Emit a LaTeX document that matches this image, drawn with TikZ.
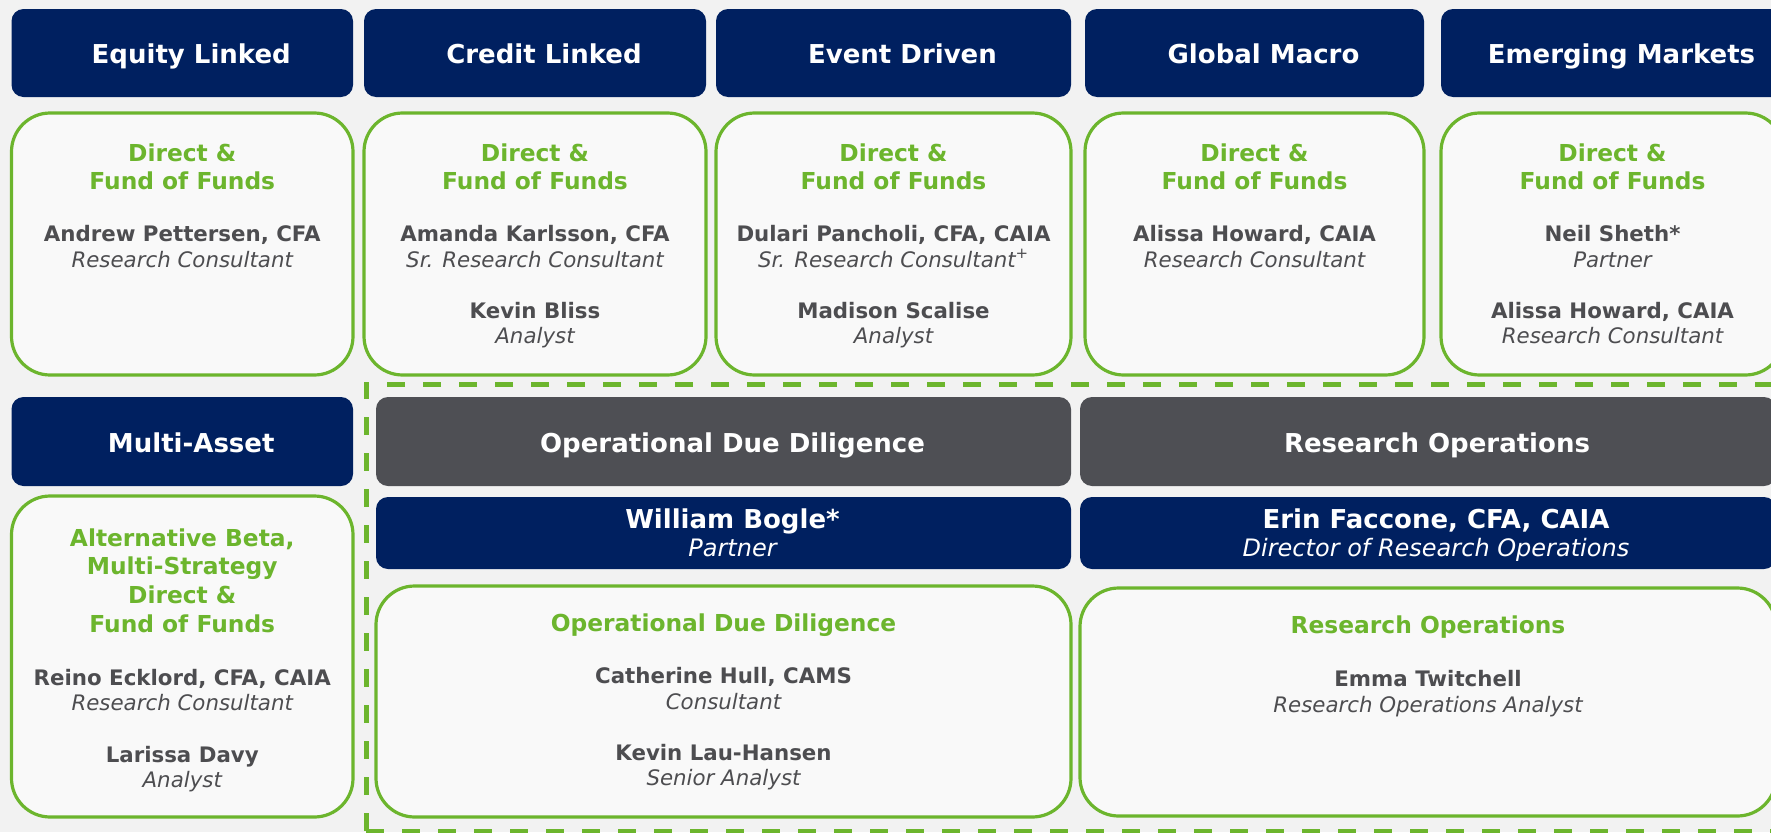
\documentclass[tikz,border=0pt]{standalone}
\usepackage{fontspec}
\setmainfont{DejaVu Sans}
\usetikzlibrary{fit,calc}

\definecolor{navy}{RGB}{0,32,96}
\definecolor{slate}{RGB}{78,79,84}
\definecolor{leaf}{RGB}{108,181,45}
\definecolor{ink}{RGB}{77,77,80}
\definecolor{bgcol}{RGB}{242,242,242}

\begin{document}
\begin{tikzpicture}[x=0.75pt, y=-0.75pt,
    hdr/.style={fill=navy, rounded corners=9pt, inner sep=0pt, outer sep=0pt},
    opsbox/.style={fill=slate, rounded corners=9pt, inner sep=0pt, outer sep=0pt},
    grnbox/.style={draw=leaf, line width=2.4pt, fill=white, fill opacity=0.6, rounded corners=29pt, inner sep=0pt, outer sep=0pt},
    teamline/.style={draw=leaf, line width=3.75pt, dash pattern=on 13.5pt off 13.5pt, inner sep=0pt},
    hdrtxt/.style={text=white, font=\bfseries\fontsize{19.5}{23}\selectfont, anchor=base},
    grntxt/.style={text=leaf, font=\bfseries\fontsize{17.5}{21}\selectfont, anchor=base},
    nametxt/.style={text=ink, font=\bfseries\fontsize{16}{19}\selectfont, anchor=base},
    roletxt/.style={text=ink, font=\itshape\fontsize{16}{19}\selectfont, anchor=base},
    partxt/.style={text=white, font=\itshape\fontsize{18}{21}\selectfont, anchor=base}]

    \clip (0,0) rectangle (1771,832);
    \fill[bgcol] (0,0) rectangle (1771,832);

    % strategy columns
    \foreach \n/\l/\r/\t in {eq/11.5/353/Equity Linked, cr/364/706/Credit Linked,
        ev/716/1071/Event Driven, gm/1085/1424/Global Macro, em/1441/1784/Emerging Markets}{
        \node[hdr, fit={(\l,9) (\r,97)}] (\n H) {};
        \node[hdrtxt] (\n Ht) at ($(\n H.center)+(9,10)$) {\t};
        \node[grnbox, fit={(\l,113) (\r,375)}] (\n B) {};
        \node[grntxt] (\n Ba) at ($(\n B.north)+(0,48)$) {Direct \&};
        \node[grntxt] (\n Bb) at ($(\n B.north)+(0,76)$) {Fund of Funds};
    }

    \node[nametxt] (eqN1) at ($(eqB.north)+(0,128)$) {Andrew Pettersen, CFA};
    \node[roletxt] (eqR1) at ($(eqB.north)+(0,154)$) {Research Consultant};

    \node[nametxt] (crN1) at ($(crB.north)+(0,128)$) {Amanda Karlsson, CFA};
    \node[roletxt] (crR1) at ($(crB.north)+(0,154)$) {Sr. Research Consultant};
    \node[nametxt] (crN2) at ($(crB.north)+(0,205)$) {Kevin Bliss};
    \node[roletxt] (crR2) at ($(crB.north)+(0,230)$) {Analyst};

    \node[nametxt] (evN1) at ($(evB.north)+(0,128)$) {Dulari Pancholi, CFA, CAIA};
    \node[roletxt] (evR1) at ($(evB.north)+(0,154)$) {Sr. Research Consultant\textsuperscript{+}};
    \node[nametxt] (evN2) at ($(evB.north)+(0,205)$) {Madison Scalise};
    \node[roletxt] (evR2) at ($(evB.north)+(0,230)$) {Analyst};

    \node[nametxt] (gmN1) at ($(gmB.north)+(0,128)$) {Alissa Howard, CAIA};
    \node[roletxt] (gmR1) at ($(gmB.north)+(0,154)$) {Research Consultant};

    \node[nametxt] (emN1) at ($(emB.north)+(0,128)$) {Neil Sheth*};
    \node[roletxt] (emR1) at ($(emB.north)+(0,154)$) {Partner};
    \node[nametxt] (emN2) at ($(emB.north)+(0,205)$) {Alissa Howard, CAIA};
    \node[roletxt] (emR2) at ($(emB.north)+(0,230)$) {Research Consultant};

    % multi-asset
    \node[hdr, fit={(11.5,397) (353,486)}] (maH) {};
    \node[hdrtxt] (maHt) at ($(maH.center)+(9,10.5)$) {Multi-Asset};
    \node[grnbox, fit={(11.5,496) (353,817)}] (maB) {};
    \node[grntxt] (maBa) at ($(maB.north)+(0,50)$) {Alternative Beta,};
    \node[grntxt] (maBb) at ($(maB.north)+(0,78)$) {Multi-Strategy};
    \node[grntxt] (maBc) at ($(maB.north)+(0,107)$) {Direct \&};
    \node[grntxt] (maBd) at ($(maB.north)+(0,136)$) {Fund of Funds};
    \node[nametxt] (maN1) at ($(maB.north)+(0,189)$) {Reino Ecklord, CFA, CAIA};
    \node[roletxt] (maR1) at ($(maB.north)+(0,214)$) {Research Consultant};
    \node[nametxt] (maN2) at ($(maB.north)+(0,266)$) {Larissa Davy};
    \node[roletxt] (maR2) at ($(maB.north)+(0,291)$) {Analyst};

    % operations team
    \node[teamline, fit={(366,384) (1800,831)}] (teamF) {};

    \node[opsbox, fit={(376,397) (1071,486)}] (oddH) {};
    \node[hdrtxt] (oddHt) at ($(oddH.center)+(9,10.5)$) {Operational Due Diligence};
    \node[hdr, fit={(376,497) (1071,569)}] (oddP) {};
    \node[hdrtxt] (oddPn) at ($(oddP.center)+(9,-5)$) {William Bogle*};
    \node[partxt] (oddPr) at ($(oddP.center)+(9,23)$) {Partner};
    \node[grnbox, fit={(376,586) (1071,817)}] (oddB) {};
    \node[grntxt] (oddBa) at ($(oddB.north)+(0,45)$) {Operational Due Diligence};
    \node[nametxt] (oddN1) at ($(oddB.north)+(0,97)$) {Catherine Hull, CAMS};
    \node[roletxt] (oddR1) at ($(oddB.north)+(0,123)$) {Consultant};
    \node[nametxt] (oddN2) at ($(oddB.north)+(0,174)$) {Kevin Lau-Hansen};
    \node[roletxt] (oddR2) at ($(oddB.north)+(0,199)$) {Senior Analyst};

    \node[opsbox, fit={(1080,397) (1776,486)}] (roH) {};
    \node[hdrtxt] (roHt) at ($(roH.center)+(9,10.5)$) {Research Operations};
    \node[hdr, fit={(1080,497) (1776,569)}] (roP) {};
    \node[hdrtxt] (roPn) at ($(roP.center)+(8,-5)$) {Erin Faccone, CFA, CAIA};
    \node[partxt] (roPr) at ($(roP.center)+(8,23)$) {Director of Research Operations};
    \node[grnbox, fit={(1080,588) (1776,816)}] (roB) {};
    \node[grntxt] (roBa) at ($(roB.north)+(0,45)$) {Research Operations};
    \node[nametxt] (roN1) at ($(roB.north)+(0,98)$) {Emma Twitchell};
    \node[roletxt] (roR1) at ($(roB.north)+(0,124)$) {Research Operations Analyst};
\end{tikzpicture}
\end{document}
